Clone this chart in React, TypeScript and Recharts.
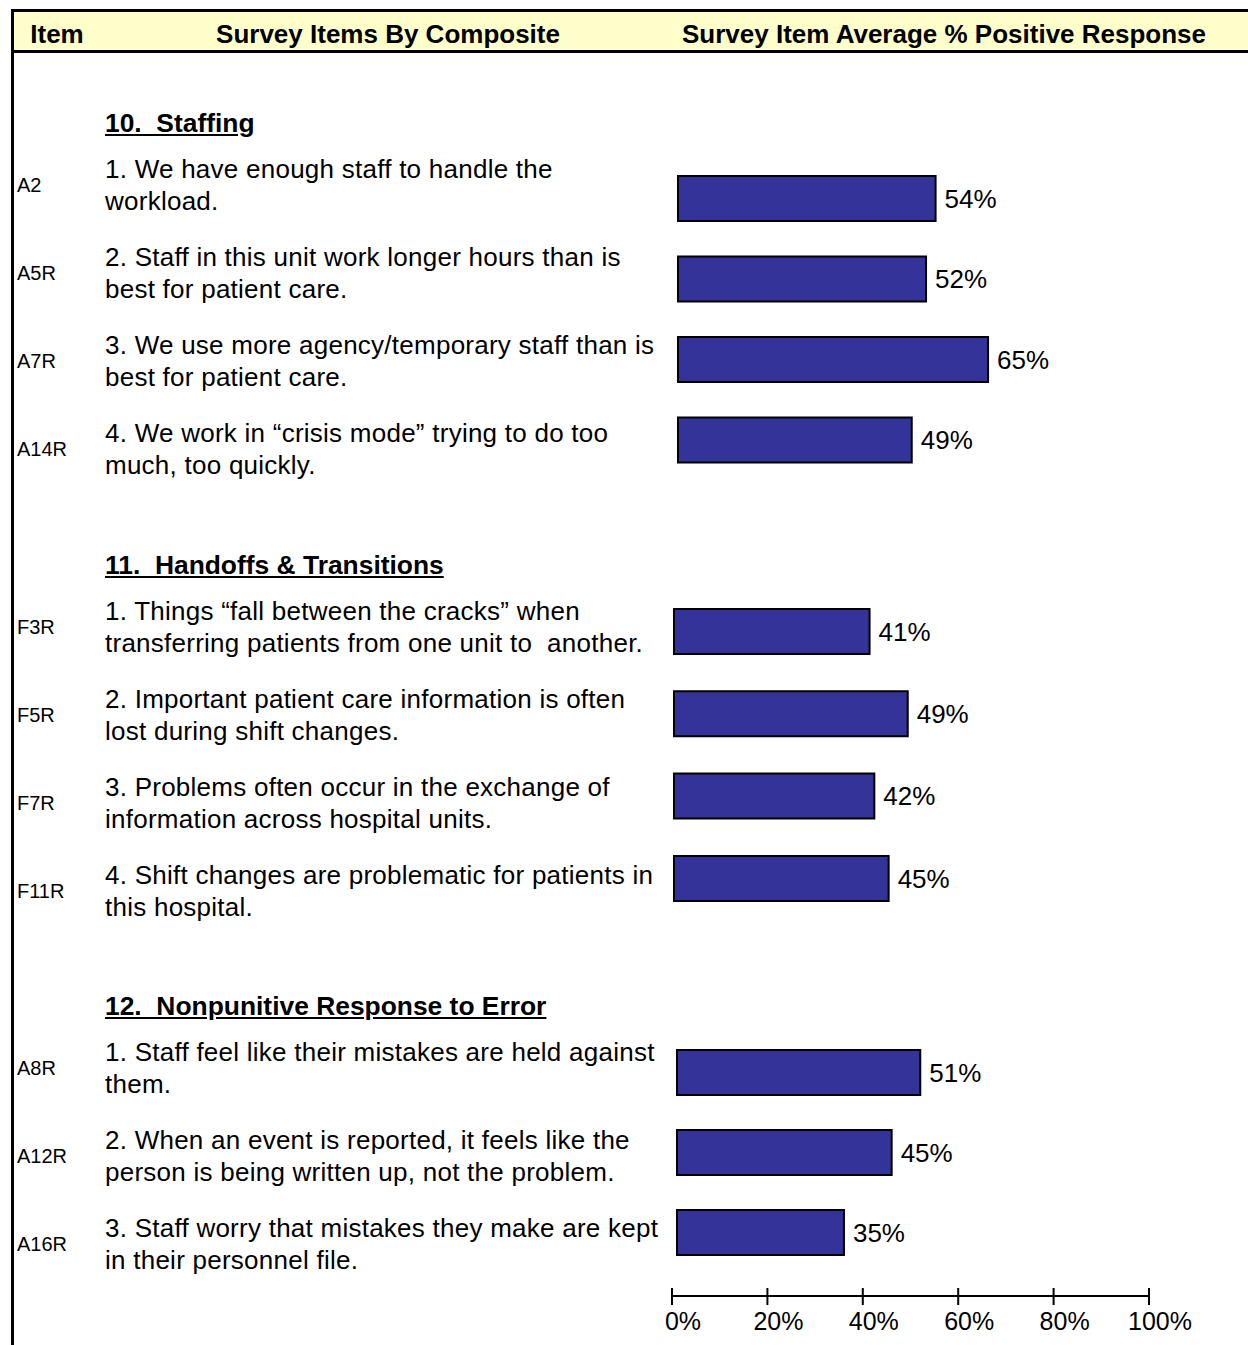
import { BarChart, Bar, XAxis, YAxis, LabelList } from 'recharts';

// Section 10 - Staffing
const staffingCodes = ['A2', 'A5R', 'A7R', 'A14R'];
const staffingItems = [
  ['1. We have enough staff to handle the', 'workload.'],
  ['2. Staff in this unit work longer hours than is', 'best for patient care.'],
  ['3. We use more agency/temporary staff than is', 'best for patient care.'],
  ['4. We work in \u201Ccrisis mode\u201D trying to do too', 'much, too quickly.'],
];
const staffingValues = [54, 52, 65, 49];

// Section 11 - Handoffs & Transitions
const handoffCodes = ['F3R', 'F5R', 'F7R', 'F11R'];
const handoffItems = [
  ['1. Things \u201Cfall between the cracks\u201D when', 'transferring patients from one unit to  another.'],
  ['2. Important patient care information is often', 'lost during shift changes.'],
  ['3. Problems often occur in the exchange of', 'information across hospital units.'],
  ['4. Shift changes are problematic for patients in', 'this hospital.'],
];
const handoffValues = [41, 49, 42, 45];

// Section 12 - Nonpunitive Response to Error
const errorCodes = ['A8R', 'A12R', 'A16R'];
const errorItems = [
  ['1. Staff feel like their mistakes are held against', 'them.'],
  ['2. When an event is reported, it feels like the', 'person is being written up, not the problem.'],
  ['3. Staff worry that mistakes they make are kept', 'in their personnel file.'],
];
const errorValues = [51, 45, 35];

const axisTicks = [0, 20, 40, 60, 80, 100];

const FONT = '"Liberation Sans", Arial, sans-serif';
const BAR_FILL = '#333399';
const W = 1248;
const PLOT_W = 477;

type Section = {
  title: string;
  codes: string[];
  items: string[][];
  values: number[];
  headerY: number;
  rowY: number;
  barTop: number;
  barStep: number;
  barX: number;
};

const sections: Section[] = [
  { title: '10.  Staffing', codes: staffingCodes, items: staffingItems, values: staffingValues, headerY: 123, rowY: 185, barTop: 158, barStep: 80.5, barX: 678 },
  { title: '11.  Handoffs & Transitions', codes: handoffCodes, items: handoffItems, values: handoffValues, headerY: 565, rowY: 627, barTop: 590, barStep: 82.3, barX: 674 },
  { title: '12.  Nonpunitive Response to Error', codes: errorCodes, items: errorItems, values: errorValues, headerY: 1006, rowY: 1068, barTop: 1032, barStep: 80, barX: 677 },
];

const ROW_STEP = 88;

function AxisTick({ x, y, payload }: any) {
  return (
    <g>
      <line x1={x} x2={x} y1={y - 8} y2={y + 9} stroke="#000" strokeWidth={2} />
      <text x={x + 11} y={y + 34} textAnchor="middle" fontSize={25} fontFamily={FONT} fill="#000">
        {payload.value}%
      </text>
    </g>
  );
}

function SectionBlock({ s }: { s: Section }) {
  const data = s.codes.map((code, i) => ({ code, value: s.values[i] }));
  const h = s.barStep * s.codes.length;
  return (
    <>
      <div
        style={{
          position: 'absolute', left: 105, top: s.headerY - 16, height: 32, lineHeight: '32px',
          fontSize: 26.4, fontWeight: 'bold', textDecoration: 'underline', whiteSpace: 'pre',
        }}
      >
        {s.title}
      </div>
      {s.codes.map((code, i) => (
        <div key={code} style={{ position: 'absolute', left: 0, top: s.rowY + i * ROW_STEP - 32, height: 64, width: 660 }}>
          <div style={{ position: 'absolute', left: 17, top: 0, height: 64, lineHeight: '64px', fontSize: 20 }}>{code}</div>
          <div style={{ position: 'absolute', left: 105, top: 0, lineHeight: '32px', fontSize: 26, letterSpacing: 0.25, whiteSpace: 'pre' }}>
            {s.items[i][0]}
            <br />
            {s.items[i][1]}
          </div>
        </div>
      ))}
      <div style={{ position: 'absolute', left: 0, top: s.barTop }}>
        <BarChart
          width={W}
          height={h}
          data={data}
          layout="vertical"
          margin={{ top: 0, bottom: 0, left: s.barX, right: W - s.barX - PLOT_W }}
        >
          <XAxis type="number" domain={[0, 100]} hide />
          <YAxis type="category" dataKey="code" hide />
          <Bar dataKey="value" fill={BAR_FILL} stroke="#000" strokeWidth={2} barSize={45} isAnimationActive={false}>
            <LabelList
              dataKey="value"
              position="right"
              offset={9}
              formatter={(v: any) => `${v}%`}
              style={{ fontSize: 26, fontFamily: FONT, fill: '#000' }}
            />
          </Bar>
        </BarChart>
      </div>
    </>
  );
}

const headStyle = { position: 'absolute' as const, top: 19, transform: 'translateX(-50%)', fontSize: 26, fontWeight: 'bold' as const, whiteSpace: 'nowrap' as const };

export default function App() {
  const axisData = axisTicks.map((t) => ({ t }));
  return (
    <div style={{ position: 'absolute', left: 0, top: 0, width: W, height: 1345, background: '#fff', fontFamily: FONT, color: '#000', overflow: 'hidden' }}>
      {/* header band */}
      <div style={{ position: 'absolute', left: 11, top: 9, width: W - 11, height: 44, background: '#FFFFCC', borderTop: '3px solid #000', borderBottom: '3px solid #000', boxSizing: 'border-box' }} />
      <div style={{ position: 'absolute', left: 11, top: 9, width: 3, height: 1345, background: '#000' }} />
      <div style={{ ...headStyle, left: 57 }}>Item</div>
      <div style={{ ...headStyle, left: 388 }}>Survey Items By Composite</div>
      <div style={{ ...headStyle, left: 944 }}>Survey Item Average % Positive Response</div>

      {sections.map((s) => (
        <SectionBlock key={s.title} s={s} />
      ))}

      {/* shared percentage axis */}
      <div style={{ position: 'absolute', left: 0, top: 1276 }}>
        <BarChart width={W} height={69} data={axisData} layout="vertical" margin={{ top: 10, bottom: 0, left: 672, right: W - 672 - PLOT_W }}>
          <XAxis
            type="number"
            dataKey="t"
            domain={[0, 100]}
            allowDataOverflow
            ticks={axisTicks}
            height={49}
            tickSize={0}
            tickMargin={0}
            tickLine={false}
            axisLine={{ stroke: '#000', strokeWidth: 2 }}
            tick={(p: any) => <AxisTick {...p} />}
            interval={0}
          />
          <YAxis type="category" hide />
        </BarChart>
      </div>
    </div>
  );
}
